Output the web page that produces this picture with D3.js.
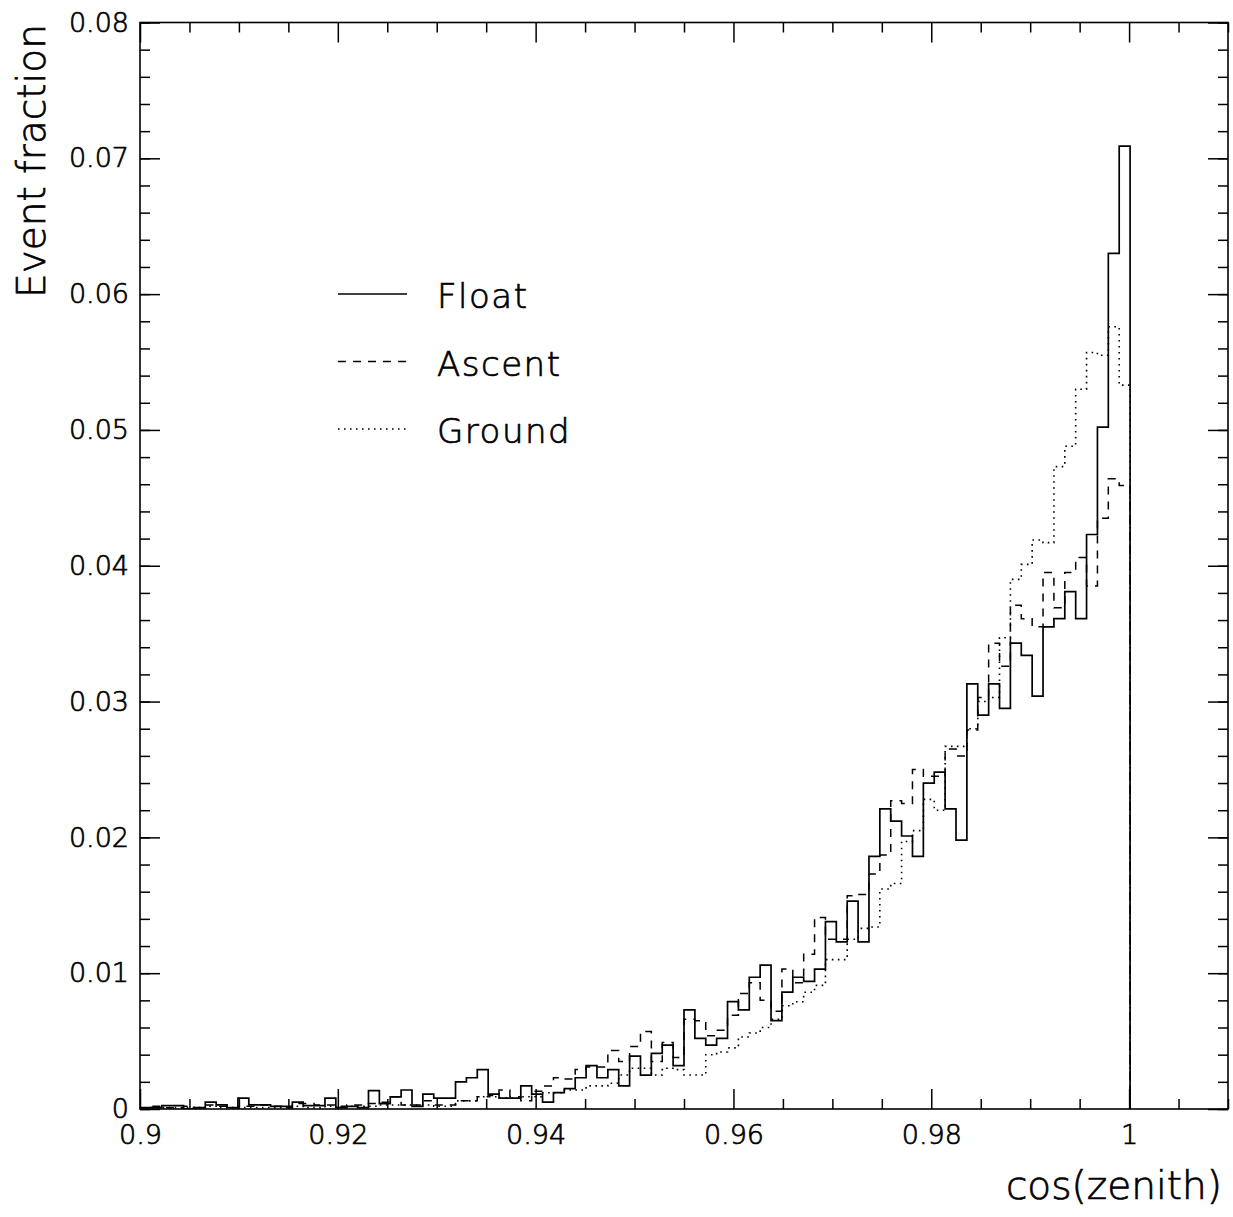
<!DOCTYPE html>
<html>
<head>
<meta charset="utf-8">
<script src="https://cdn.jsdelivr.net/npm/d3@7"></script>
<style>
  body { margin: 0; background: #fff; }
  svg text { font-family: "DejaVu Sans", "Liberation Sans", sans-serif; font-weight: 200; fill: #000; stroke: #000; stroke-width: 0.7px; }
</style>
</head>
<body>
<svg id="chart" width="1233" height="1217"></svg>
<script>
// histogram binning: 100 bins over [0.9, 1.01], only the first 91 are filled
const binStart = 0.9;
const binWidth = 0.0011;

const floatVals = [
  0.0001, 0.0001, 0.00025, 0.00025, 0.0, 0.0001, 0.0005, 0.0003, 0.0001, 0.0008,
  0.0003, 0.0003, 0.0002, 0.0002, 0.0005, 0.00025, 0.00025, 0.0008, 0.0001, 0.0002,
  0.0001, 0.00135, 0.0004, 0.0009, 0.0014, 0.0002, 0.0011, 0.0008, 0.0008, 0.002,
  0.0023, 0.0029, 0.0011, 0.0008, 0.0008, 0.0017, 0.0011, 0.0005, 0.0012, 0.0015,
  0.0023, 0.0032, 0.0023, 0.0029, 0.0017, 0.0039, 0.0025, 0.0041, 0.0047, 0.0032,
  0.0073, 0.0052, 0.0047, 0.0052, 0.0079, 0.0073, 0.0097, 0.0106, 0.0065, 0.0086,
  0.0097, 0.0094, 0.0103, 0.0138, 0.0123, 0.0153, 0.0123, 0.0186, 0.0221, 0.0212,
  0.0201, 0.0186, 0.024, 0.0248, 0.0221, 0.0198, 0.0313, 0.029, 0.0313, 0.0295,
  0.0343, 0.0334, 0.0304, 0.0355, 0.0361, 0.0381, 0.0361, 0.0423, 0.0502, 0.063,
  0.0709
];
const ascentVals = [
  0.0001, 0.0002, 0.0001, 0.0001, 0.0002, 0.0001, 0.0003, 0.0002, 0.0001, 0.0002,
  0.0002, 0.0003, 0.0002, 0.0001, 0.0004, 0.0004, 0.0003, 0.0003, 0.0002, 0.0003,
  0.0003, 0.0004, 0.0005, 0.0009, 0.0003, 0.0003, 0.0006, 0.0003, 0.0003, 0.0006,
  0.0006, 0.0009, 0.001, 0.0014, 0.0009, 0.0006, 0.0013, 0.0017, 0.0023, 0.0022,
  0.0029, 0.0031, 0.0031, 0.0043, 0.0035, 0.0046, 0.0057, 0.0035, 0.0049, 0.0038,
  0.0066, 0.0065, 0.0054, 0.0058, 0.0069, 0.0085, 0.0093, 0.008, 0.0072, 0.0103,
  0.0093, 0.0114, 0.0141, 0.0125, 0.0125, 0.0157, 0.0158, 0.0173, 0.0187, 0.0227,
  0.0225, 0.025, 0.0245, 0.0245, 0.0265, 0.026, 0.0279, 0.0303, 0.0343, 0.0326,
  0.0371, 0.0361, 0.0355, 0.0395, 0.0369, 0.0395, 0.0406, 0.0385, 0.0435, 0.0464,
  0.0459
];
const groundVals = [
  0.0, 0.0001, 0.0001, 0.0001, 0.0001, 0.0001, 0.0002, 0.0001, 0.0001, 0.0001,
  0.0001, 0.0001, 0.0001, 0.0001, 0.0002, 0.0001, 0.0001, 0.0002, 0.0001, 0.0002,
  0.0002, 0.0002, 0.0003, 0.0003, 0.0003, 0.0003, 0.0003, 0.0002, 0.0002, 0.0006,
  0.0006, 0.0009, 0.0009, 0.0008, 0.0008, 0.0009, 0.0009, 0.0012, 0.0012, 0.0014,
  0.0014, 0.0017, 0.0017, 0.0019, 0.0025, 0.003, 0.003, 0.0025, 0.003, 0.0029,
  0.0025, 0.0025, 0.004, 0.0042, 0.0045, 0.0053, 0.0056, 0.006, 0.0066, 0.0076,
  0.0079, 0.0086, 0.0091, 0.011, 0.011, 0.0125, 0.0133, 0.0134, 0.0162, 0.0166,
  0.0197, 0.0205, 0.0228, 0.022, 0.0267, 0.0267, 0.028, 0.03, 0.0303, 0.0347,
  0.039, 0.0401, 0.0419, 0.0417, 0.0473, 0.0488, 0.053, 0.0557, 0.0555, 0.0576,
  0.0533
];

const seriesNames = ["Float", "Ascent", "Ground"];
const xTicks = [0.9, 0.92, 0.94, 0.96, 0.98, 1];
const yTicks = [0, 0.01, 0.02, 0.03, 0.04, 0.05, 0.06, 0.07, 0.08];

const svg = d3.select("svg#chart");
const margin = { top: 22.5, right: 5, bottom: 108, left: 140 };
const width = +svg.attr("width");
const height = +svg.attr("height");
const plotW = width - margin.left - margin.right;
const plotH = height - margin.top - margin.bottom;

const x = d3.scaleLinear().domain([0.9, 1.01]).range([0, plotW]);
const y = d3.scaleLinear().domain([0, 0.08]).range([plotH, 0]);

const g = svg.append("g").attr("transform", `translate(${margin.left},${margin.top})`);

svg.append("defs").append("clipPath").attr("id", "plotclip")
  .append("rect").attr("width", plotW).attr("height", plotH);

// minor tick positions
const xMinor = d3.range(0, 23).map(i => +(0.9 + i * 0.005).toFixed(3)).filter(v => !xTicks.includes(v));
const yMinor = d3.range(0, 41).map(i => +(i * 0.002).toFixed(3));

function styleAxis(sel) {
  sel.select(".domain").remove();
  sel.selectAll(".tick line").attr("stroke", "#000").attr("stroke-width", 1.5);
  sel.selectAll(".tick text").attr("font-size", 27).attr("fill", "#000");
}

// bottom
g.append("g").attr("transform", `translate(0,${plotH})`)
  .call(d3.axisBottom(x).tickValues(xTicks).tickSize(-20).tickPadding(16).tickFormat(d => String(d)))
  .call(styleAxis);
g.append("g").attr("transform", `translate(0,${plotH})`)
  .call(d3.axisBottom(x).tickValues(xMinor).tickSize(-10).tickFormat(""))
  .call(styleAxis);
// top
g.append("g")
  .call(d3.axisTop(x).tickValues(xTicks).tickSize(-20).tickFormat(""))
  .call(styleAxis);
g.append("g")
  .call(d3.axisTop(x).tickValues(xMinor).tickSize(-10).tickFormat(""))
  .call(styleAxis);
// left
g.append("g")
  .call(d3.axisLeft(y).tickValues(yTicks).tickSize(-20).tickPadding(11).tickFormat(d => String(d)))
  .call(styleAxis);
g.append("g")
  .call(d3.axisLeft(y).tickValues(yMinor).tickSize(-10).tickFormat(""))
  .call(styleAxis);
// right
g.append("g").attr("transform", `translate(${plotW},0)`)
  .call(d3.axisRight(y).tickValues(yTicks).tickSize(-20).tickFormat(""))
  .call(styleAxis);
g.append("g").attr("transform", `translate(${plotW},0)`)
  .call(d3.axisRight(y).tickValues(yMinor).tickSize(-10).tickFormat(""))
  .call(styleAxis);

// frame
g.append("rect")
  .attr("width", plotW).attr("height", plotH)
  .attr("fill", "none").attr("stroke", "#000").attr("stroke-width", 1.6);

// histograms
const styles = [
  { dash: null, width: 1.7 },
  { dash: "8,7", width: 1.5 },
  { dash: "1.6,4.4", width: 1.6 }
];

function stepPoints(vals) {
  const pts = [[binStart, 0]];
  vals.forEach((v, i) => pts.push([binStart + i * binWidth, v]));
  pts.push([binStart + vals.length * binWidth, 0]);
  return pts;
}

const line = d3.line()
  .x(d => x(d[0]))
  .y(d => y(d[1]))
  .curve(d3.curveStepAfter);

const hist = g.append("g").attr("clip-path", "url(#plotclip)");
[floatVals, ascentVals, groundVals].forEach((vals, i) => {
  hist.append("path")
    .attr("d", line(stepPoints(vals)))
    .attr("fill", "none")
    .attr("stroke", "#000")
    .attr("stroke-width", styles[i].width)
    .attr("stroke-dasharray", styles[i].dash);
});

// legend
const legend = svg.append("g").attr("transform", "translate(338,294)");
seriesNames.forEach((name, i) => {
  const row = legend.append("g").attr("transform", `translate(0,${i * 67.5})`);
  row.append("line")
    .attr("x1", 0).attr("x2", 69).attr("y1", 0).attr("y2", 0)
    .attr("stroke", "#000")
    .attr("stroke-width", styles[i].width)
    .attr("stroke-dasharray", styles[i].dash);
  row.append("text")
    .attr("x", 99).attr("y", 14)
    .attr("font-size", 34)
    .attr("letter-spacing", 1.5)
    .text(name);
});

// axis titles
svg.append("text")
  .attr("x", 1222).attr("y", 1199)
  .attr("text-anchor", "end")
  .attr("font-size", 39)
  .text("cos(zenith)");

svg.append("text")
  .attr("transform", "translate(45,298) rotate(-90)")
  .attr("text-anchor", "start")
  .attr("font-size", 39)
  .text("Event fraction");
</script>
</body>
</html>
